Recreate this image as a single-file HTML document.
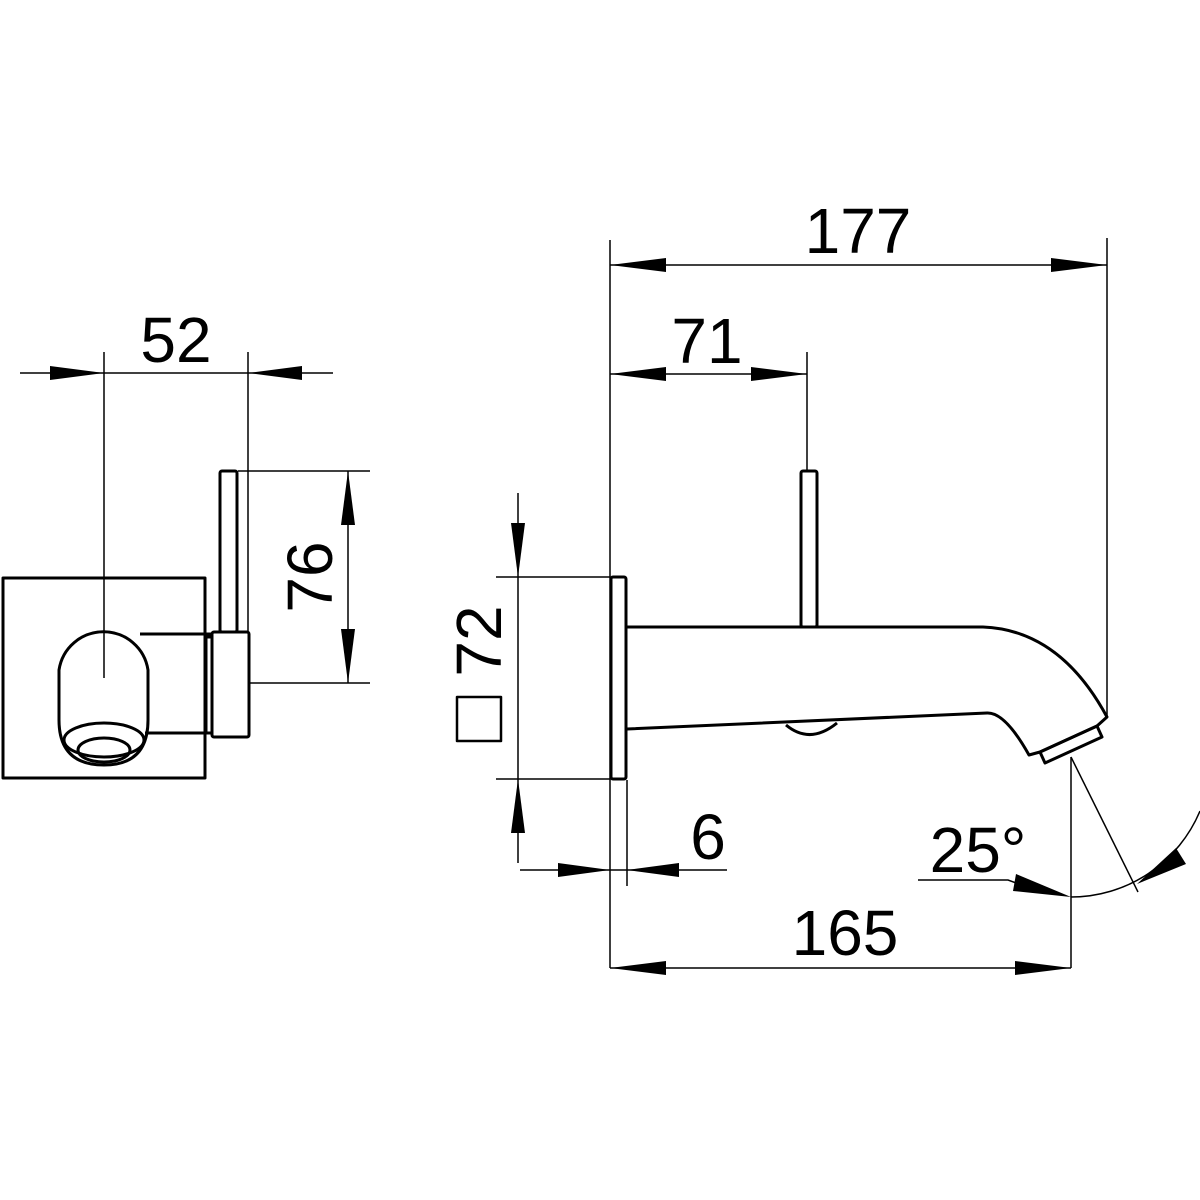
<!DOCTYPE html>
<html><head><meta charset="utf-8"><style>html,body{margin:0;padding:0;background:#fff}svg{display:block}</style></head><body>
<svg width="1200" height="1200" viewBox="0 0 1200 1200" xmlns="http://www.w3.org/2000/svg" font-family="Liberation Sans, sans-serif" font-size="64">
<rect width="1200" height="1200" fill="#fff"/>
<g fill="none" stroke="#000" stroke-width="1.5">
<!-- left view dims -->
<line x1="20" y1="373" x2="333" y2="373"/>
<line x1="104" y1="352" x2="104" y2="678"/>
<line x1="248" y1="352" x2="248" y2="632"/>
<line x1="238" y1="471" x2="370" y2="471"/>
<line x1="250" y1="683" x2="370" y2="683"/>
<line x1="348" y1="471" x2="348" y2="683"/>
<!-- right view dims -->
<line x1="610" y1="240" x2="610" y2="968"/>
<line x1="627" y1="780" x2="627" y2="886"/>
<line x1="1107" y1="238" x2="1107" y2="717"/>
<line x1="610" y1="265" x2="1107" y2="265"/>
<line x1="807" y1="352" x2="807" y2="470"/>
<line x1="610" y1="374" x2="807" y2="374"/>
<line x1="610" y1="968" x2="1071" y2="968"/>
<line x1="520" y1="870" x2="727" y2="870"/>
<line x1="518" y1="493" x2="518" y2="863"/>
<line x1="496" y1="577" x2="610" y2="577"/>
<line x1="496" y1="779" x2="610" y2="779"/>
<line x1="1071" y1="757" x2="1071" y2="968"/>
<line x1="1071" y1="757" x2="1138" y2="892"/>
<path d="M1071 897 A140 140 0 0 0 1200 811"/>
<polyline points="918,880 1008,880 1030,888"/>
</g>
<g fill="#000">
<!-- arrows -->
<polygon points="104,373 50,366 50,380"/>
<polygon points="248,373 302,366 302,380"/>
<polygon points="348,471 341,525 355,525"/>
<polygon points="348,683 341,629 355,629"/>
<polygon points="610,265 666,258 666,272"/>
<polygon points="1107,265 1051,258 1051,272"/>
<polygon points="610,374 666,367 666,381"/>
<polygon points="807,374 751,367 751,381"/>
<polygon points="610,968 666,961 666,975"/>
<polygon points="1071,968 1015,961 1015,975"/>
<polygon points="610,870 558,863 558,877"/>
<polygon points="627,870 679,863 679,877"/>
<polygon points="518,577 511,523 525,523"/>
<polygon points="518,779 511,833 525,833"/>
<polygon points="1071,897 1016,874 1013,891"/>
<polygon points="1137,884 1176,848 1186,864"/>
</g>
<!-- left view part -->
<g fill="none" stroke="#000" stroke-width="3" stroke-linejoin="round">
<rect x="3" y="578" width="202" height="200"/>
<rect x="220" y="471" width="17" height="161" rx="2"/>
<rect x="212" y="632" width="37" height="105" rx="2"/>
<rect x="206" y="637" width="6" height="96"/>
<line x1="140" y1="634" x2="212" y2="634"/>
<line x1="145" y1="733" x2="212" y2="733"/>
<path d="M59 720 L59 670 A45 45 0 0 1 148 670 L148 720 Q148 765 104 765 Q59 765 59 720 Z"/>
<ellipse cx="104" cy="740" rx="40" ry="17"/>
<ellipse cx="104" cy="750" rx="26" ry="12"/>
</g>
<!-- right view part -->
<g fill="none" stroke="#000" stroke-width="3" stroke-linejoin="round">
<rect x="611" y="577" width="15" height="202" rx="2"/>
<rect x="801" y="471" width="16" height="156" rx="2"/>
<path d="M627 627 L983 627 Q1060 630 1107 717 L1097 726 L1040 752 L1029 755 Q1005 712 987 713 L627 729"/>
<polygon points="1040,752 1097,726 1102,737 1045,763"/>
<path d="M786 725 Q810 745 837 723"/>
<rect x="457" y="697" width="44" height="44" stroke-width="2.5"/>
</g>
<g fill="#000">
<text x="176" y="362" text-anchor="middle">52</text>
<text transform="translate(332,577) rotate(-90)" text-anchor="middle">76</text>
<text x="858" y="253" text-anchor="middle">177</text>
<text x="707" y="363" text-anchor="middle">71</text>
<text x="845" y="955" text-anchor="middle">165</text>
<text x="708" y="859" text-anchor="middle">6</text>
<text x="978" y="872" text-anchor="middle">25°</text>
<text transform="translate(501,641) rotate(-90)" text-anchor="middle">72</text>
</g>
</svg>
</body></html>
